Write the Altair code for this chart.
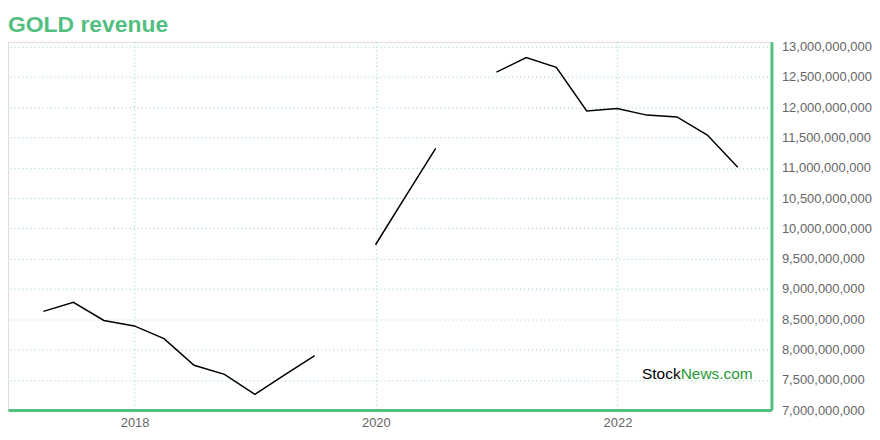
import altair as alt
import pandas as pd

dates = [
    "2017-03-31", "2017-06-30", "2017-09-30", "2017-12-31",
    "2018-03-31", "2018-06-30", "2018-09-30", "2018-12-31",
    "2019-03-31", "2019-06-30", "2019-09-30", "2019-12-31",
    "2020-03-31", "2020-06-30", "2020-09-30", "2020-12-31",
    "2021-03-31", "2021-06-30", "2021-09-30", "2021-12-31",
    "2022-03-31", "2022-06-30", "2022-09-30", "2022-12-31",
]
revenue = [
    8.63e9, 8.78e9, 8.48e9, 8.39e9,
    8.18e9, 7.74e9, 7.59e9, 7.26e9,
    7.58e9, 7.90e9, None, 9.73e9,
    10.53e9, 11.32e9, None, 12.58e9,
    12.82e9, 12.66e9, 11.94e9, 11.98e9,
    11.87e9, 11.84e9, 11.54e9, 11.01e9,
]
y_ticks = [7e9 + 0.5e9 * i for i in range(13)]
x_tick_years = [2018, 2020, 2022]

# split into continuous segments (gaps where revenue is missing)
rows = []
seg = 0
for d, v in zip(dates, revenue):
    if v is None:
        seg += 1
        continue
    rows.append({"date": d, "revenue": v, "seg": seg})
df = pd.DataFrame(rows)

GREEN = "#52bf7f"
GRID = "#8ed9ab"
GRAY = "#666666"

base = alt.Chart(df)

line = base.mark_line(color="#000000", strokeWidth=1.5).encode(
    x=alt.X(
        "date:T",
        scale=alt.Scale(domain=["2016-12-14", "2023-04-12"]),
        axis=alt.Axis(
            title=None,
            values=[alt.DateTime(year=y, month=1, date=1) for y in x_tick_years],
            format="%Y",
            labelColor=GRAY,
            labelFontSize=13,
            labelFont="Liberation Sans",
            labelPadding=6,
            ticks=False,
            domainColor=GREEN,
            domainWidth=3,
            grid=True,
            gridColor=GRID,
            gridDash=[1, 3],
            gridWidth=1,
            labelFlush=False,
        ),
    ),
    y=alt.Y(
        "revenue:Q",
        scale=alt.Scale(domain=[7e9, 13.08e9], nice=False, zero=False),
        axis=alt.Axis(
            title=None,
            orient="right",
            values=y_ticks,
            format=",d",
            labelColor=GRAY,
            labelFontSize=13,
            labelFont="Liberation Sans",
            labelPadding=10,
            ticks=False,
            domainColor=GREEN,
            domainWidth=3,
            grid=True,
            gridColor=GRID,
            gridDash=[1, 3],
            gridWidth=1,
        ),
    ),
    detail="seg:N",
)

wm1 = alt.Chart(pd.DataFrame({"t": ["Stock"]})).mark_text(
    align="left", baseline="middle", fontSize=15.5, font="Liberation Sans", color="#000000"
).encode(text="t:N", x=alt.value(637), y=alt.value(334))
wm2 = alt.Chart(pd.DataFrame({"t": ["News.com"]})).mark_text(
    align="left", baseline="middle", fontSize=15.5, font="Liberation Sans", color="#1f9a35"
).encode(text="t:N", x=alt.value(675.8), y=alt.value(334))

chart = (
    alt.layer(line, wm1, wm2)
    .properties(
        width=767,
        height=370,
        padding={"left": 0, "top": 4, "right": 0, "bottom": 0},
        title=alt.TitleParams(
            "GOLD revenue",
            anchor="start",
            color=GREEN,
            fontSize=23,
            font="Liberation Sans",
            fontWeight="bold",
            offset=4,
        ),
    )
    .configure_view(stroke="#eeeeee")
    .configure(background="#ffffff")
)

chart.save("out.html", embed_options={"renderer": "svg", "actions": False})
